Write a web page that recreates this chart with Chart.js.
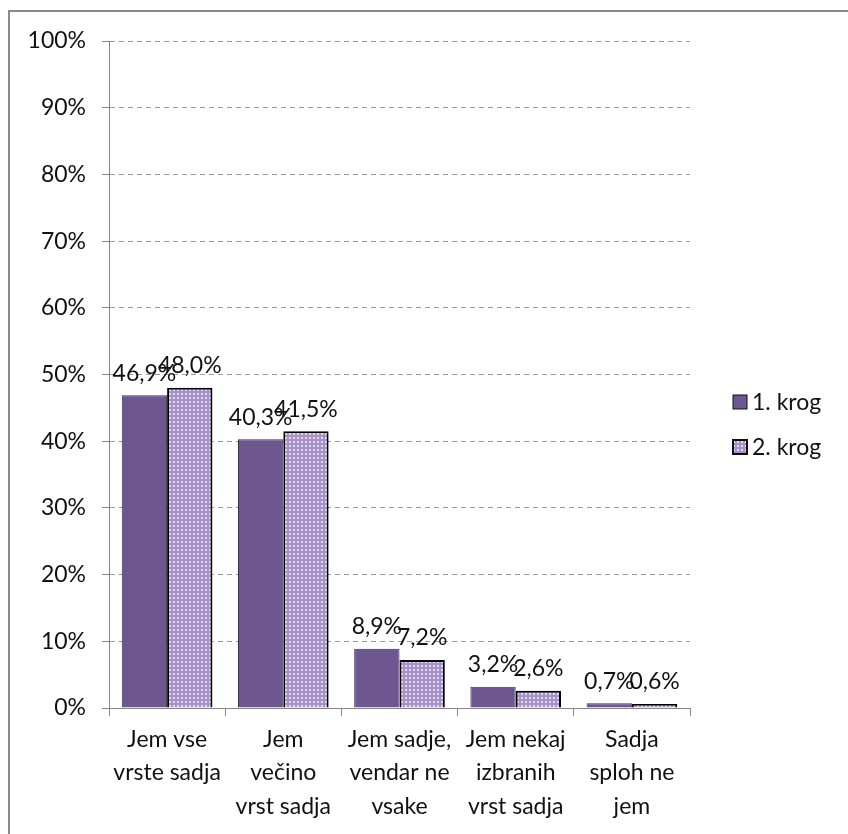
<!DOCTYPE html>
<html>
<head>
<meta charset="utf-8">
<script src="https://cdn.jsdelivr.net/npm/chart.js@4.4.1/dist/chart.umd.min.js"></script>
<style>
  html, body { margin: 0; padding: 0; background: #fff; }
  #wrap { position: relative; width: 848px; height: 834px; overflow: hidden; }
  #frame { position: absolute; left: 8px; top: 10px; width: 900px; height: 900px;
           border-left: 2px solid #8a8a8a; border-top: 2px solid #8a8a8a; }
  canvas { position: absolute; left: 0; top: 0; }
</style>
</head>
<body>
<div id="wrap">
  <div id="frame"></div>
  <canvas id="grafikon" width="848" height="834"></canvas>
</div>
<script>
// podatki
const kategorije = [
  ['Jem vse', 'vrste sadja'],
  ['Jem', 'večino', 'vrst sadja'],
  ['Jem sadje,', 'vendar ne', 'vsake'],
  ['Jem nekaj', 'izbranih', 'vrst sadja'],
  ['Sadja', 'sploh ne', 'jem']
];
const krog1 = [46.9, 40.3, 8.9, 3.2, 0.7];
const krog2 = [48.0, 41.5, 7.2, 2.6, 0.6];
const imenaSerij = ['1. krog', '2. krog'];
const yTicki = [0, 10, 20, 30, 40, 50, 60, 70, 80, 90, 100];

const PISAVA = 'Lato';

// vzorec s pikami za 2. krog
function narediVzorec() {
  const c = document.createElement('canvas');
  c.width = 4; c.height = 4;
  const g = c.getContext('2d');
  g.fillStyle = '#a791c8';
  g.fillRect(0, 0, 4, 4);
  g.fillStyle = '#e2d9ef';
  g.fillRect(1, 1, 2, 2);
  return g.createPattern(c, 'repeat');
}

const oznakePlugin = {
  id: 'oznake',
  afterDatasetsDraw(chart) {
    const ctx = chart.ctx;
    ctx.save();
    ctx.font = '23px ' + PISAVA;
    ctx.fillStyle = '#111';
    ctx.textAlign = 'center';
    ctx.textBaseline = 'middle';
    chart.data.datasets.forEach((ds, i) => {
      chart.getDatasetMeta(i).data.forEach((bar, j) => {
        const t = ds.data[j].toFixed(1).replace('.', ',') + '%';
        ctx.fillText(t, bar.x, bar.y - 22);
      });
    });
    ctx.restore();
  }
};

const legendaPlugin = {
  id: 'legenda',
  afterDraw(chart) {
    const ctx = chart.ctx;
    ctx.save();
    ctx.font = '23px ' + PISAVA;
    ctx.textBaseline = 'middle';
    chart.data.datasets.forEach((ds, i) => {
      const y = 402 + i * 45;
      ctx.fillStyle = ds.backgroundColor;
      ctx.fillRect(733, y - 7, 14, 14);
      ctx.strokeStyle = '#111';
      ctx.lineWidth = i === 0 ? 1 : 2;
      ctx.strokeRect(733, y - 7, 14, 14);
      ctx.fillStyle = '#111';
      ctx.fillText(ds.label, 752, y + 1);
    });
    ctx.restore();
  }
};

new Chart(document.getElementById('grafikon').getContext('2d'), {
  type: 'bar',
  data: {
    labels: kategorije,
    datasets: [
      { label: imenaSerij[0], data: krog1, backgroundColor: '#6e5690',
        borderColor: '#3c2f50', borderWidth: 1, borderSkipped: 'bottom' },
      { label: imenaSerij[1], data: krog2, backgroundColor: narediVzorec(),
        borderColor: '#000', borderWidth: 2, borderSkipped: 'bottom' }
    ]
  },
  options: {
    responsive: false,
    animation: false,
    layout: { padding: { left: 0, top: 41, right: 158, bottom: 0 } },
    datasets: { bar: { categoryPercentage: 0.78, barPercentage: 1 } },
    plugins: { legend: { display: false }, tooltip: { enabled: false } },
    scales: {
      y: {
        min: 0, max: 100,
        afterBuildTicks: (s) => { s.ticks = yTicki.map(v => ({ value: v })); },
        afterFit: (s) => { s.width = 109; },
        ticks: { callback: v => v + '%', color: '#111', padding: 16,
                 font: { family: PISAVA, size: 23 } },
        grid: { color: '#9a9a9a', tickLength: 7,
                tickColor: '#868686', tickBorderDash: [] },
        border: { color: '#868686', width: 1, dash: [5, 4] }
      },
      x: {
        afterFit: (s) => { s.height = 126; },
        ticks: { color: '#111', padding: 7, maxRotation: 0, autoSkip: false,
                 font: { family: PISAVA, size: 23, lineHeight: 1.45 } },
        grid: { drawOnChartArea: false, offset: true, tickLength: 8,
                color: '#868686' },
        border: { color: '#868686', width: 1 }
      }
    }
  },
  plugins: [oznakePlugin, legendaPlugin]
});
</script>
</body>
</html>
